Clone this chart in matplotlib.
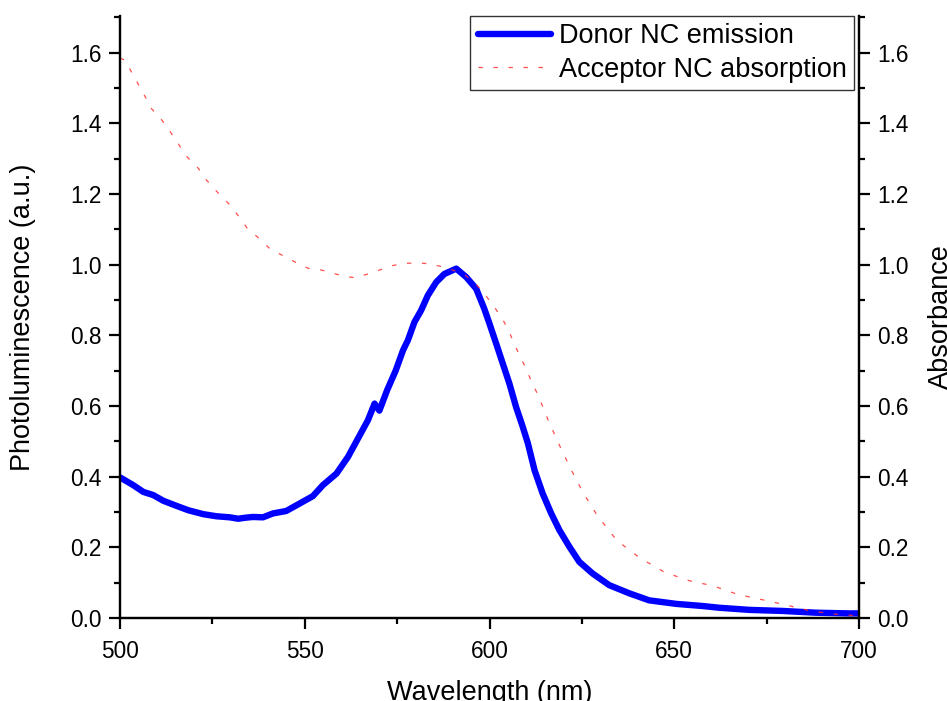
import matplotlib
matplotlib.use("Agg")
import matplotlib.pyplot as plt
from matplotlib.ticker import MultipleLocator

plt.rcParams['font.family'] = ['Liberation Sans', 'DejaVu Sans']

# Donor NC emission (photoluminescence)
pl_wl = [500, 500.5, 503.6, 506.3, 509, 511.7, 514.9, 518.5, 522.5, 526.1, 529.7,
         532, 534, 536, 538.7, 541.4, 545, 548.6, 552.2, 554.9, 558.6, 561.7,
         564.4, 567.1, 568.9, 570.2, 572.3, 574.6, 576.6, 577.9, 579.7, 581.5,
         583.3, 585.6, 587.8, 591, 593.7, 596.4, 598.6, 600, 601.8, 603.6,
         605.4, 607.2, 609, 610.4, 612.2, 614.4, 616.7, 618.9, 621.6, 624.3,
         627.9, 632.4, 637.8, 643.2, 650.5, 657.6, 662.2, 670.3, 679.3, 688.3,
         697.3, 700]
pl_val = [0.398, 0.395, 0.376, 0.357, 0.348, 0.332, 0.319, 0.305, 0.294, 0.288, 0.285,
          0.281, 0.284, 0.286, 0.285, 0.296, 0.303, 0.324, 0.345, 0.376, 0.409, 0.456,
          0.508, 0.560, 0.607, 0.587, 0.645, 0.700, 0.758, 0.786, 0.838, 0.871,
          0.913, 0.951, 0.974, 0.989, 0.965, 0.932, 0.875, 0.833, 0.777, 0.720,
          0.663, 0.597, 0.541, 0.494, 0.418, 0.352, 0.296, 0.249, 0.202, 0.159,
          0.126, 0.093, 0.070, 0.050, 0.040, 0.034, 0.029, 0.023, 0.020, 0.015,
          0.013, 0.013]

# Acceptor NC absorption (absorbance)
abs_wl = [500, 501.4, 503.2, 505, 506.8, 508.6, 511.3, 513.5, 515.8, 518, 521.2,
          523.4, 526.4, 529.5, 532, 534.4, 537.6, 540.8, 544.1, 547.5, 550.9,
          554.1, 557.4, 560.6, 563.9, 567.1, 570.5, 573.9, 577.1, 580.5, 583.6,
          586.9, 590.3, 593.5, 596.7, 599.4, 601.8, 603.9, 605.6, 607, 608.6,
          610.1, 611.5, 613.1, 615.8, 618.7, 621.8, 625.2, 629.3, 634.5, 640.7,
          647.3, 653.9, 660.5, 667.1, 673.7, 680.2, 686.9, 693.4, 700]
abs_val = [1.585, 1.579, 1.544, 1.510, 1.476, 1.441, 1.410, 1.378, 1.342, 1.307, 1.273,
           1.240, 1.205, 1.172, 1.139, 1.104, 1.075, 1.043, 1.026, 1.007, 0.990,
           0.986, 0.977, 0.967, 0.963, 0.974, 0.986, 0.998, 1.004, 1.005, 1.003,
           0.995, 0.984, 0.970, 0.941, 0.907, 0.873, 0.839, 0.803, 0.769, 0.734,
           0.701, 0.666, 0.632, 0.562, 0.494, 0.426, 0.357, 0.288, 0.219, 0.170,
           0.130, 0.106, 0.091, 0.067, 0.052, 0.037, 0.020, 0.011, 0.006]

fig = plt.figure(figsize=(9.47, 7.01), dpi=100)
ax = fig.add_axes([0.1267, 0.1184, 0.7804, 0.8592])
ax2 = ax.twinx()

l1, = ax.plot(pl_wl, pl_val, color='#0000ff', lw=4.6, solid_capstyle='round',
              solid_joinstyle='round', label='Donor NC emission')
l2, = ax2.plot(abs_wl, abs_val, color='#ff3030', lw=0.9, alpha=0.85,
               dashes=(3.5, 8.5), label='Acceptor NC absorption')

for a in (ax, ax2):
    a.set_xlim(500, 700)
    a.set_ylim(0, 1.705)
    a.yaxis.set_major_locator(MultipleLocator(0.2))
    a.yaxis.set_minor_locator(MultipleLocator(0.1))
    a.spines['top'].set_visible(False)
    for s in a.spines.values():
        s.set_linewidth(1.6)
    a.tick_params(which='major', direction='out', length=8, width=1.6,
                  labelsize=16.3, pad=5)
    a.tick_params(which='minor', direction='out', length=4.5, width=1.6)

ax.xaxis.set_major_locator(MultipleLocator(50))
ax.xaxis.set_minor_locator(MultipleLocator(25))
ax.yaxis.set_major_formatter(plt.FormatStrFormatter('%.1f'))
ax2.yaxis.set_major_formatter(plt.FormatStrFormatter('%.1f'))
ax.tick_params(axis='x', pad=8)

ax.set_xlabel('Wavelength (nm)', fontsize=19.5, labelpad=12)
ax.set_ylabel('Photoluminescence (a.u.)', fontsize=19.5, labelpad=25)
ax2.set_ylabel('Absorbance', fontsize=19.5, labelpad=14)

leg = ax2.legend(handles=[l1, l2], loc='upper right', bbox_to_anchor=(0.9932, 1.0),
                 borderaxespad=0, fontsize=19.5, frameon=True, fancybox=False,
                 handlelength=2.7, handletextpad=0.3, labelspacing=0.28,
                 borderpad=0.27)
leg.get_frame().set_edgecolor('black')
leg.get_frame().set_linewidth(1.0)

fig.savefig('out.png', dpi=100)
